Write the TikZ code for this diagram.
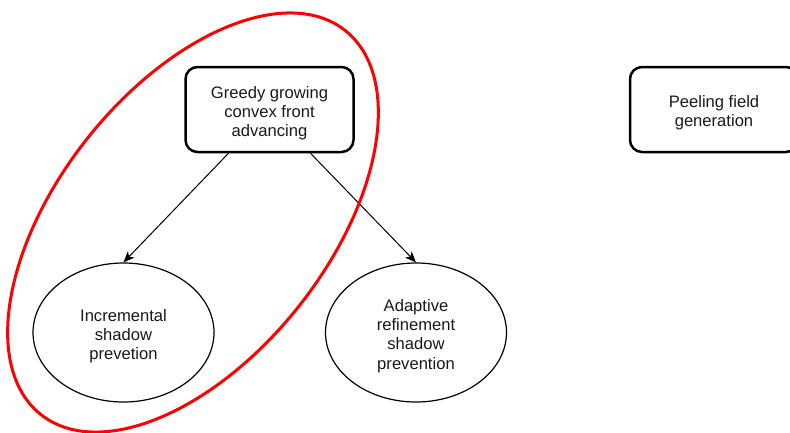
\documentclass[tikz,border=0pt]{standalone}
\usepackage{fontspec}
\setmainfont{Liberation Sans}
\usetikzlibrary{shapes.geometric,arrows.meta,calc}
\begin{document}
\begin{tikzpicture}[x=1pt,y=-1pt,
  txt/.style={font=\fontsize{16.6}{19.2}\selectfont, align=center, text=black!90, inner sep=0pt},
  procbox/.style={draw=black, line width=2.5pt, rounded corners=12pt,
    minimum width=168pt, minimum height=85pt, inner sep=0pt},
  oval/.style={draw=black, line width=1.2pt, ellipse,
    minimum width=181pt, minimum height=139pt, inner sep=0pt},
  link/.style={draw=black, line width=1pt, -{Stealth[length=11pt,width=9pt,inset=3pt]}},
  group/.style={draw=red, line width=3pt}]
\useasboundingbox (0,0) rectangle (790,432);
\clip (0,0) rectangle (790,432);
\node[procbox] (greedy) at (269.5,109.5) {};
\node[procbox] (peel) at (714,109.5) {};
\node[oval] (incr) at (123.5,332.5) {};
\node[oval] (adapt) at (416,332.5) {};
\node[txt] (greedyt) at ([yshift=-3.5pt]greedy.center) {Greedy growing\\convex front\\advancing};
\node[txt] (peelt) at ([yshift=-3.5pt]peel.center) {Peeling field\\generation};
\node[txt] (incrt) at ([yshift=-3.5pt]incr.center) {Incremental\\shadow\\prevetion};
\node[txt] (adaptt) at ([yshift=-3.5pt]adapt.center) {Adaptive\\refinement\\shadow\\prevention};
\draw[link] ([xshift=-41pt]greedy.south) -- (incr.north);
\draw[link] ([xshift=41pt]greedy.south) -- (adapt.north);
\coordinate (gc) at (193,222.5);
\draw[group, rotate around={51.6:(gc)}] (gc) ellipse [x radius=245pt, y radius=135pt];
\end{tikzpicture}
\end{document}
